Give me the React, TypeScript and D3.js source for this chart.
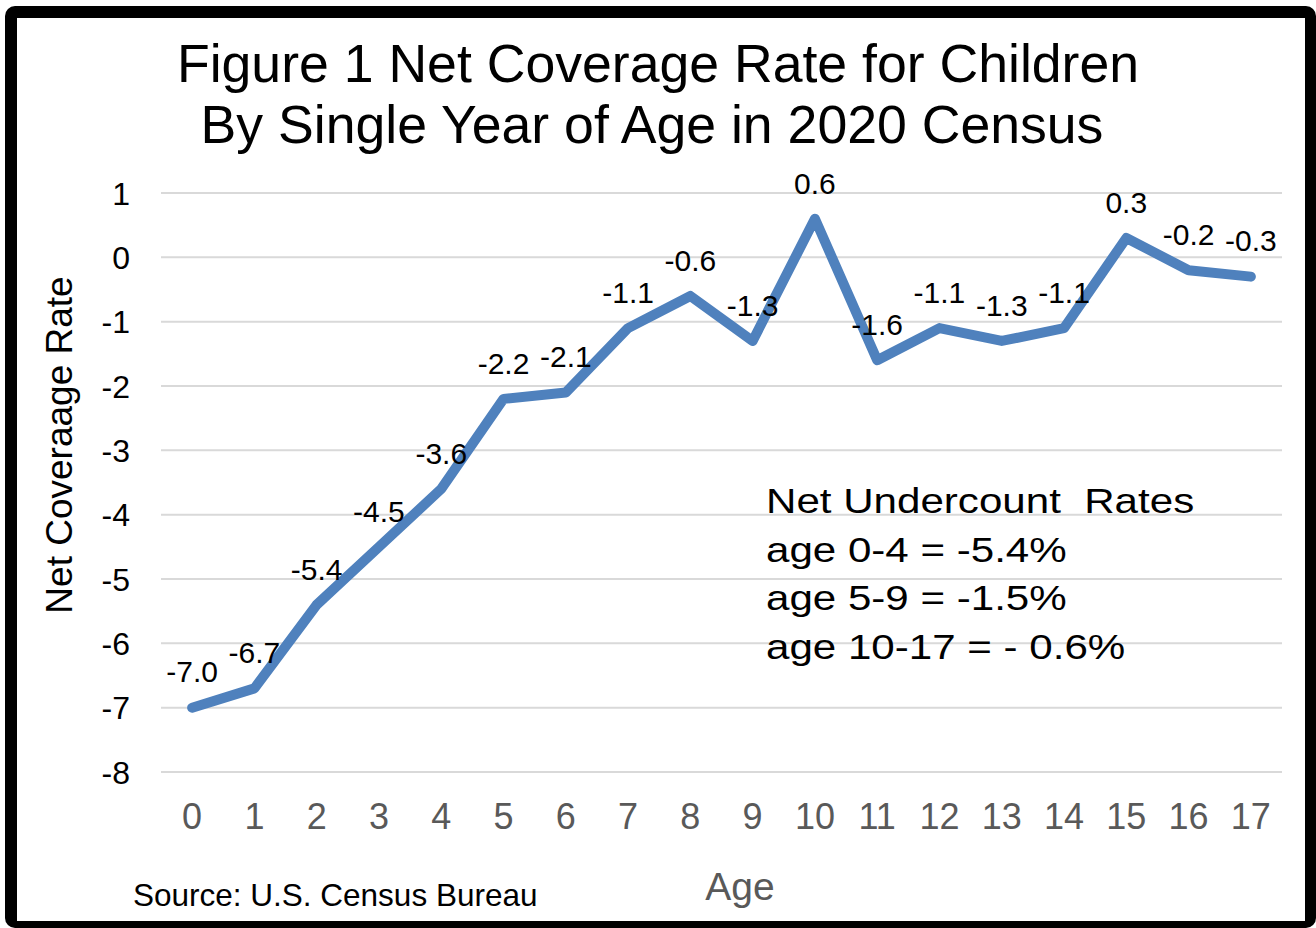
import React from "react";
import * as d3 from "d3";

const ages: string[] = ["0","1","2","3","4","5","6","7","8","9","10","11","12","13","14","15","16","17"];
const netCoverage: number[] = [-7.0,-6.7,-5.4,-4.5,-3.6,-2.2,-2.1,-1.1,-0.6,-1.3,0.6,-1.6,-1.1,-1.3,-1.1,0.3,-0.2,-0.3];
const yTicks: number[] = [1,0,-1,-2,-3,-4,-5,-6,-7,-8];
const titleLines: string[] = ["Figure 1 Net Coverage Rate for Children", "By Single Year of Age in 2020 Census"];
const noteLines: string[] = ["Net Undercount  Rates", "age 0-4 = -5.4%", "age 5-9 = -1.5%", "age 10-17 = - 0.6%"];

const W = 1316, H = 928;
const FONT = "'Liberation Sans', Arial, sans-serif";

export default function App() {
  const x = d3.scaleBand<string>().domain(ages).range([161, 1282]);
  const y = d3.scaleLinear().domain([-8, 1]).range([772, 193]);
  const line = d3.line<number>()
    .x((_, i) => (x(ages[i]) as number) + x.bandwidth() / 2)
    .y((d) => y(d));

  return (
    <svg width={W} height={H} style={{ position: "absolute", left: 0, top: 0 }} xmlns="http://www.w3.org/2000/svg">
      <rect x={5} y={6} width={W - 5} height={H - 6} rx={10} fill="#000" />
      <rect x={17} y={18} width={1288} height={903} fill="#fff" />
      {titleLines.map((t, i) => (
        <text key={t} x={i === 0 ? 658 : 652} y={82 + i * 61} textAnchor="middle" fontFamily={FONT} fontSize={53.6} fill="#000">{t}</text>
      ))}
      {yTicks.map((v) => (
        <g key={v}>
          <line x1={161} x2={1282} y1={y(v)} y2={y(v)} stroke="#d9d9d9" strokeWidth={2} />
          <text x={130} y={y(v)} dy="0.36em" textAnchor="end" fontFamily={FONT} fontSize={32} fill="#000">{v}</text>
        </g>
      ))}
      {ages.map((a) => (
        <text key={a} x={(x(a) as number) + x.bandwidth() / 2} y={829} textAnchor="middle" fontFamily={FONT} fontSize={36} fill="#595959">{a}</text>
      ))}
      <path d={line(netCoverage) as string} fill="none" stroke="#4f81bd" strokeWidth={10} strokeLinejoin="round" strokeLinecap="round" />
      {netCoverage.map((v, i) => (
        <text key={i} x={(x(ages[i]) as number) + x.bandwidth() / 2} y={y(v) - 36} dy="0.36em" textAnchor="middle" fontFamily={FONT} fontSize={30} fill="#000">{v.toFixed(1)}</text>
      ))}
      <text transform="translate(72,445) rotate(-90)" textAnchor="middle" fontFamily={FONT} fontSize={37} fill="#000">Net Coveraage Rate</text>
      <text x={740} y={900} textAnchor="middle" fontFamily={FONT} fontSize={39} fill="#595959">Age</text>
      <text x={133} y={906} fontFamily={FONT} fontSize={31.5} fill="#000">Source: U.S. Census Bureau</text>
      {noteLines.map((t, i) => (
        <text key={t} transform={`translate(766,${513 + i * 48.5}) scale(1.17,1)`} style={{ whiteSpace: "pre" }} fontFamily={FONT} fontSize={36} fill="#000">{t}</text>
      ))}
    </svg>
  );
}
